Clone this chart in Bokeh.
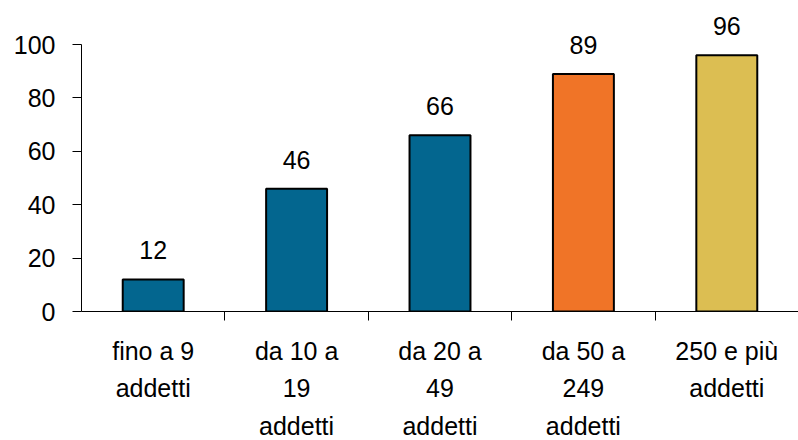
from bokeh.plotting import figure
from bokeh.models import ColumnDataSource, FixedTicker, Range1d, LabelSet
from bokeh.core.properties import value
from bokeh.embed import file_html
from bokeh.resources import INLINE

categories = ["fino a 9\naddetti", "da 10 a\n19\naddetti", "da 20 a\n49\naddetti",
              "da 50 a\n249\naddetti", "250 e più\naddetti"]
values = [12, 46, 66, 89, 96]
colors = ["#03668F", "#03668F", "#03668F", "#F07427", "#DCBE52"]
y_ticks = [0, 20, 40, 60, 80, 100]

xs = list(range(1, len(categories) + 1))
src = ColumnDataSource(dict(x=xs, top=values, color=colors, label=[str(v) for v in values]))

FONT = "Liberation Sans"

p = figure(frame_width=717, frame_height=303, output_backend="svg", toolbar_location=None,
           x_range=Range1d(0.5, len(categories) + 0.5), y_range=Range1d(0, 113.5),
           min_border_left=81, min_border_top=8, min_border_right=0, min_border_bottom=120)
p.outline_line_color = None
p.grid.grid_line_color = None
p.background_fill_color = "white"
p.border_fill_color = "white"

p.vbar(x="x", top="top", width=0.425, bottom=0, source=src, fill_color="color",
       line_color="black", line_width=2)

labels = LabelSet(x="x", y="top", text="label", source=src, text_align="center",
                  text_baseline="alphabetic", y_offset=20, text_font=value(FONT),
                  text_font_size="25px", text_color="black")
p.add_layout(labels)

xa = p.xaxis[0]
xa.ticker = FixedTicker(ticks=xs, minor_ticks=[1.5, 2.5, 3.5, 4.5])
xa.major_label_overrides = {x: c for x, c in zip(xs, categories)}
xa.major_tick_line_color = None
xa.minor_tick_in = 0
xa.minor_tick_out = 9
xa.minor_tick_line_color = "black"
xa.axis_line_color = "black"
xa.major_label_text_font = FONT
xa.major_label_text_font_size = "25px"
xa.major_label_text_color = "black"
xa.major_label_text_line_height = 1.34
xa.major_label_standoff = 16

ya = p.yaxis[0]
ya.ticker = FixedTicker(ticks=y_ticks)
ya.bounds = (0, 100)
ya.minor_tick_line_color = None
ya.major_tick_in = 0
ya.major_tick_out = 9
ya.major_tick_line_color = "black"
ya.axis_line_color = "black"
ya.major_label_text_font = FONT
ya.major_label_text_font_size = "25px"
ya.major_label_text_color = "black"
ya.major_label_standoff = 17

open("out.html", "w").write(file_html(p, INLINE))
